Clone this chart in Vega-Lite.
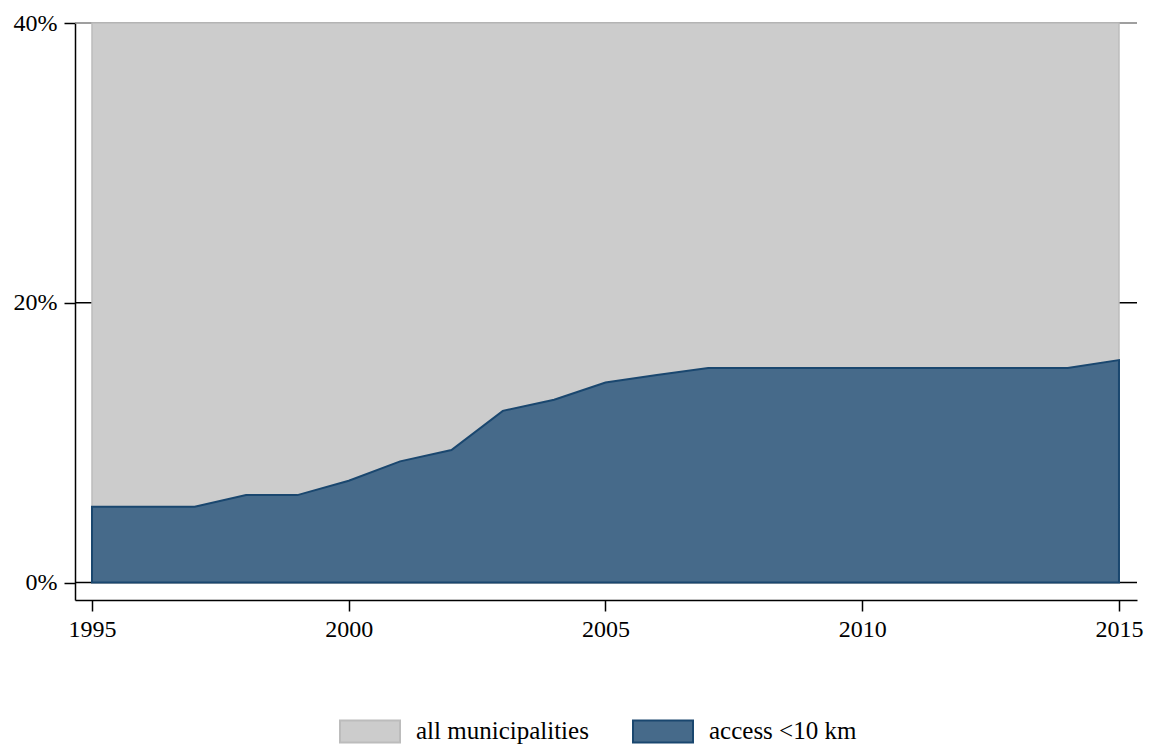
{
  "$schema": "https://vega.github.io/schema/vega-lite/v6.json",
  "width": 1062,
  "height": 577,
  "autosize": {"type": "none"},
  "padding": {"left": 75, "top": 23, "right": 18, "bottom": 151},
  "background": "#ffffff",
  "config": {
    "view": {"stroke": null},
    "font": "Liberation Serif",
    "axis": {
      "labelFont": "Liberation Serif",
      "labelFontSize": 24,
      "labelColor": "#000000",
      "domainColor": "#000000",
      "tickColor": "#000000",
      "domainWidth": 1.5,
      "tickWidth": 1.5,
      "tickSize": 11,
      "grid": false,
      "title": null
    }
  },
  "datasets": {
    "areas": [
      {"year": 1995, "series": "all municipalities", "value": 40},
      {"year": 2015, "series": "all municipalities", "value": 40},
      {"year": 1995, "series": "access <10 km", "value": 5.42},
      {"year": 1996, "series": "access <10 km", "value": 5.42},
      {"year": 1997, "series": "access <10 km", "value": 5.42},
      {"year": 1998, "series": "access <10 km", "value": 6.25},
      {"year": 1999, "series": "access <10 km", "value": 6.25},
      {"year": 2000, "series": "access <10 km", "value": 7.28},
      {"year": 2001, "series": "access <10 km", "value": 8.66},
      {"year": 2002, "series": "access <10 km", "value": 9.47},
      {"year": 2003, "series": "access <10 km", "value": 12.27},
      {"year": 2004, "series": "access <10 km", "value": 13.07},
      {"year": 2005, "series": "access <10 km", "value": 14.3},
      {"year": 2006, "series": "access <10 km", "value": 14.83},
      {"year": 2007, "series": "access <10 km", "value": 15.34},
      {"year": 2008, "series": "access <10 km", "value": 15.34},
      {"year": 2009, "series": "access <10 km", "value": 15.34},
      {"year": 2010, "series": "access <10 km", "value": 15.34},
      {"year": 2011, "series": "access <10 km", "value": 15.34},
      {"year": 2012, "series": "access <10 km", "value": 15.34},
      {"year": 2013, "series": "access <10 km", "value": 15.34},
      {"year": 2014, "series": "access <10 km", "value": 15.34},
      {"year": 2015, "series": "access <10 km", "value": 15.9}
    ],
    "levels": [
      {"level": 0},
      {"level": 20},
      {"level": 40}
    ]
  },
  "layer": [
    {
      "data": {"name": "levels"},
      "transform": [{"filter": "datum.level < 40"}],
      "mark": {"type": "rule", "strokeWidth": 1.5, "color": "#000000"},
      "encoding": {
        "y": {
          "field": "level",
          "type": "quantitative",
          "scale": {"domain": [-1.25, 40], "nice": false, "zero": false},
          "axis": {
            "values": [0, 20, 40],
            "labelExpr": "datum.value + '%'",
            "labelPadding": 7
          }
        }
      }
    },
    {
      "data": {"name": "levels"},
      "transform": [{"filter": "datum.level === 40"}],
      "mark": {"type": "rule", "strokeWidth": 1.5, "color": "#7f7f7f"},
      "encoding": {
        "y": {"field": "level", "type": "quantitative"}
      }
    },
    {
      "data": {"name": "areas"},
      "transform": [{"filter": "datum.series === 'all municipalities'"}],
      "mark": {"type": "area", "strokeWidth": 1.5, "interpolate": "linear"},
      "encoding": {
        "x": {
          "field": "year",
          "type": "quantitative",
          "scale": {"domain": [1994.669, 2015.351], "nice": false, "zero": false},
          "axis": {
            "values": [1995, 2000, 2005, 2010, 2015],
            "format": "d",
            "labelPadding": 6
          }
        },
        "y": {"field": "value", "type": "quantitative", "stack": null},
        "fill": {
          "field": "series",
          "type": "nominal",
          "scale": {"domain": ["all municipalities", "access <10 km"], "range": ["#cccccc", "#466a8a"]},
          "legend": {
            "title": null,
            "orient": "none",
            "legendX": 264,
            "legendY": 677,
            "direction": "horizontal",
            "columns": 2,
            "symbolType": "M-1,-0.367H1V0.367H-1Z",
            "symbolSize": 3600,
            "symbolStrokeWidth": 2,
            "symbolOpacity": 1,
            "labelFont": "Liberation Serif",
            "labelFontSize": 25,
            "labelColor": "#000000",
            "labelOffset": 15,
            "columnPadding": 40,
            "labelLimit": 400
          }
        },
        "stroke": {
          "field": "series",
          "type": "nominal",
          "scale": {"domain": ["all municipalities", "access <10 km"], "range": ["#bcbcbc", "#1a476f"]}
        }
      }
    },
    {
      "data": {"name": "areas"},
      "transform": [{"filter": "datum.series === 'access <10 km'"}],
      "mark": {"type": "area", "strokeWidth": 2, "interpolate": "linear"},
      "encoding": {
        "x": {"field": "year", "type": "quantitative"},
        "y": {"field": "value", "type": "quantitative", "stack": null},
        "fill": {"field": "series", "type": "nominal"},
        "stroke": {"field": "series", "type": "nominal"}
      }
    }
  ]
}
